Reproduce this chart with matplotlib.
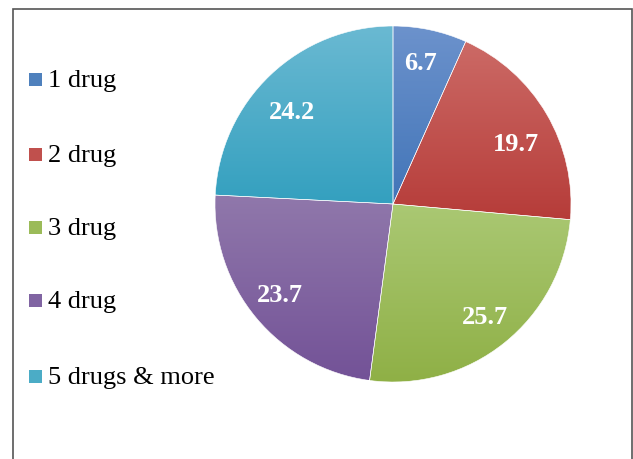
import matplotlib.pyplot as plt
import matplotlib.patches as mpatches
import numpy as np

labels = ['1 drug', '2 drug', '3 drug', '4 drug', '5 drugs & more']
values = [6.7, 19.7, 25.7, 23.7, 24.2]
# light (top) and dark (bottom) shade for each slice
tops = ['#6c92cc', '#cc6a66', '#aac873', '#9078ab', '#6ab9d2']
bottoms = ['#4275b8', '#b63c39', '#8fb046', '#735297', '#34a0bf']
mids = ['#4f81bd', '#c0504d', '#9bbb59', '#8064a2', '#4bacc6']

plt.rcParams['font.family'] = 'serif'
plt.rcParams['font.serif'] = ['Liberation Serif', 'Times New Roman', 'DejaVu Serif']

W, H = 633, 460
fig = plt.figure(figsize=(W / 100, H / 100), dpi=100)

# pie centre (393, 205) px from top-left, radius 178 px
R = 178.0
lim = 1.1
side = 2 * R * lim
cx, cy = 393, H - 205
ax = fig.add_axes([(cx - side / 2) / W, (cy - side / 2) / H, side / W, side / H])

wedges, _ = ax.pie(values, startangle=90, counterclock=False, radius=1.0,
                   wedgeprops={'edgecolor': 'white', 'linewidth': 0.4})
ax.set_aspect('equal')
ax.axis('off')

def hex2rgb(h):
    return np.array([int(h[i:i + 2], 16) / 255 for i in (1, 3, 5)])

for w, t, b in zip(wedges, tops, bottoms):
    ext = w.get_path().get_extents()
    n = 128
    f = np.linspace(0, 1, n)[:, None]
    grad = (1 - f) * hex2rgb(t) + f * hex2rgb(b)
    img = ax.imshow(grad[:, None, :], extent=[ext.x0, ext.x1, ext.y0, ext.y1],
                    aspect='auto', origin='upper', zorder=w.get_zorder() - 0.1,
                    interpolation='bilinear')
    img.set_clip_path(w)
    w.set_facecolor('none')

ax.set_xlim(-lim, lim)
ax.set_ylim(-lim, lim)

# value labels inside the slices, nudged off the bisector a little
nudge_deg = [1.1, -3.5, 1.1, -1.9, 3.3]
lab_r = [0.824, 0.775, 0.804, 0.805, 0.781]
fs = 19
cum = 0.0
for v, dn, r in zip(values, nudge_deg, lab_r):
    mid = np.deg2rad(90 - (cum + v / 2) * 3.6 + dn)
    cum += v
    # baseline shifted down by half the digit height so digits sit centred
    ax.annotate(f'{v}', (r * np.cos(mid), r * np.sin(mid)), xytext=(0, -0.338 * fs),
                textcoords='offset points', ha='center', va='baseline',
                color='white', fontsize=fs, fontweight='bold')

# legend down the left side
ys = [80, 155, 228, 301, 377]
for lab, c, y in zip(labels, mids, ys):
    fig.patches.append(mpatches.Rectangle((29 / W, 1 - (y + 6.5) / H), 13 / W, 13 / H,
                                          transform=fig.transFigure, facecolor=c,
                                          edgecolor='none'))
    fig.text(48.5 / W, 1 - (y + 1) / H, lab, ha='left', va='center', fontsize=fs,
             color='black')

# chart frame
fig.patches.append(mpatches.Rectangle((13 / W, -0.05), (632 - 13) / W, 1.05 - 10 / H,
                                      transform=fig.transFigure, facecolor='none',
                                      edgecolor='#555555', linewidth=1.2))

fig.savefig('out.png', dpi=100)
